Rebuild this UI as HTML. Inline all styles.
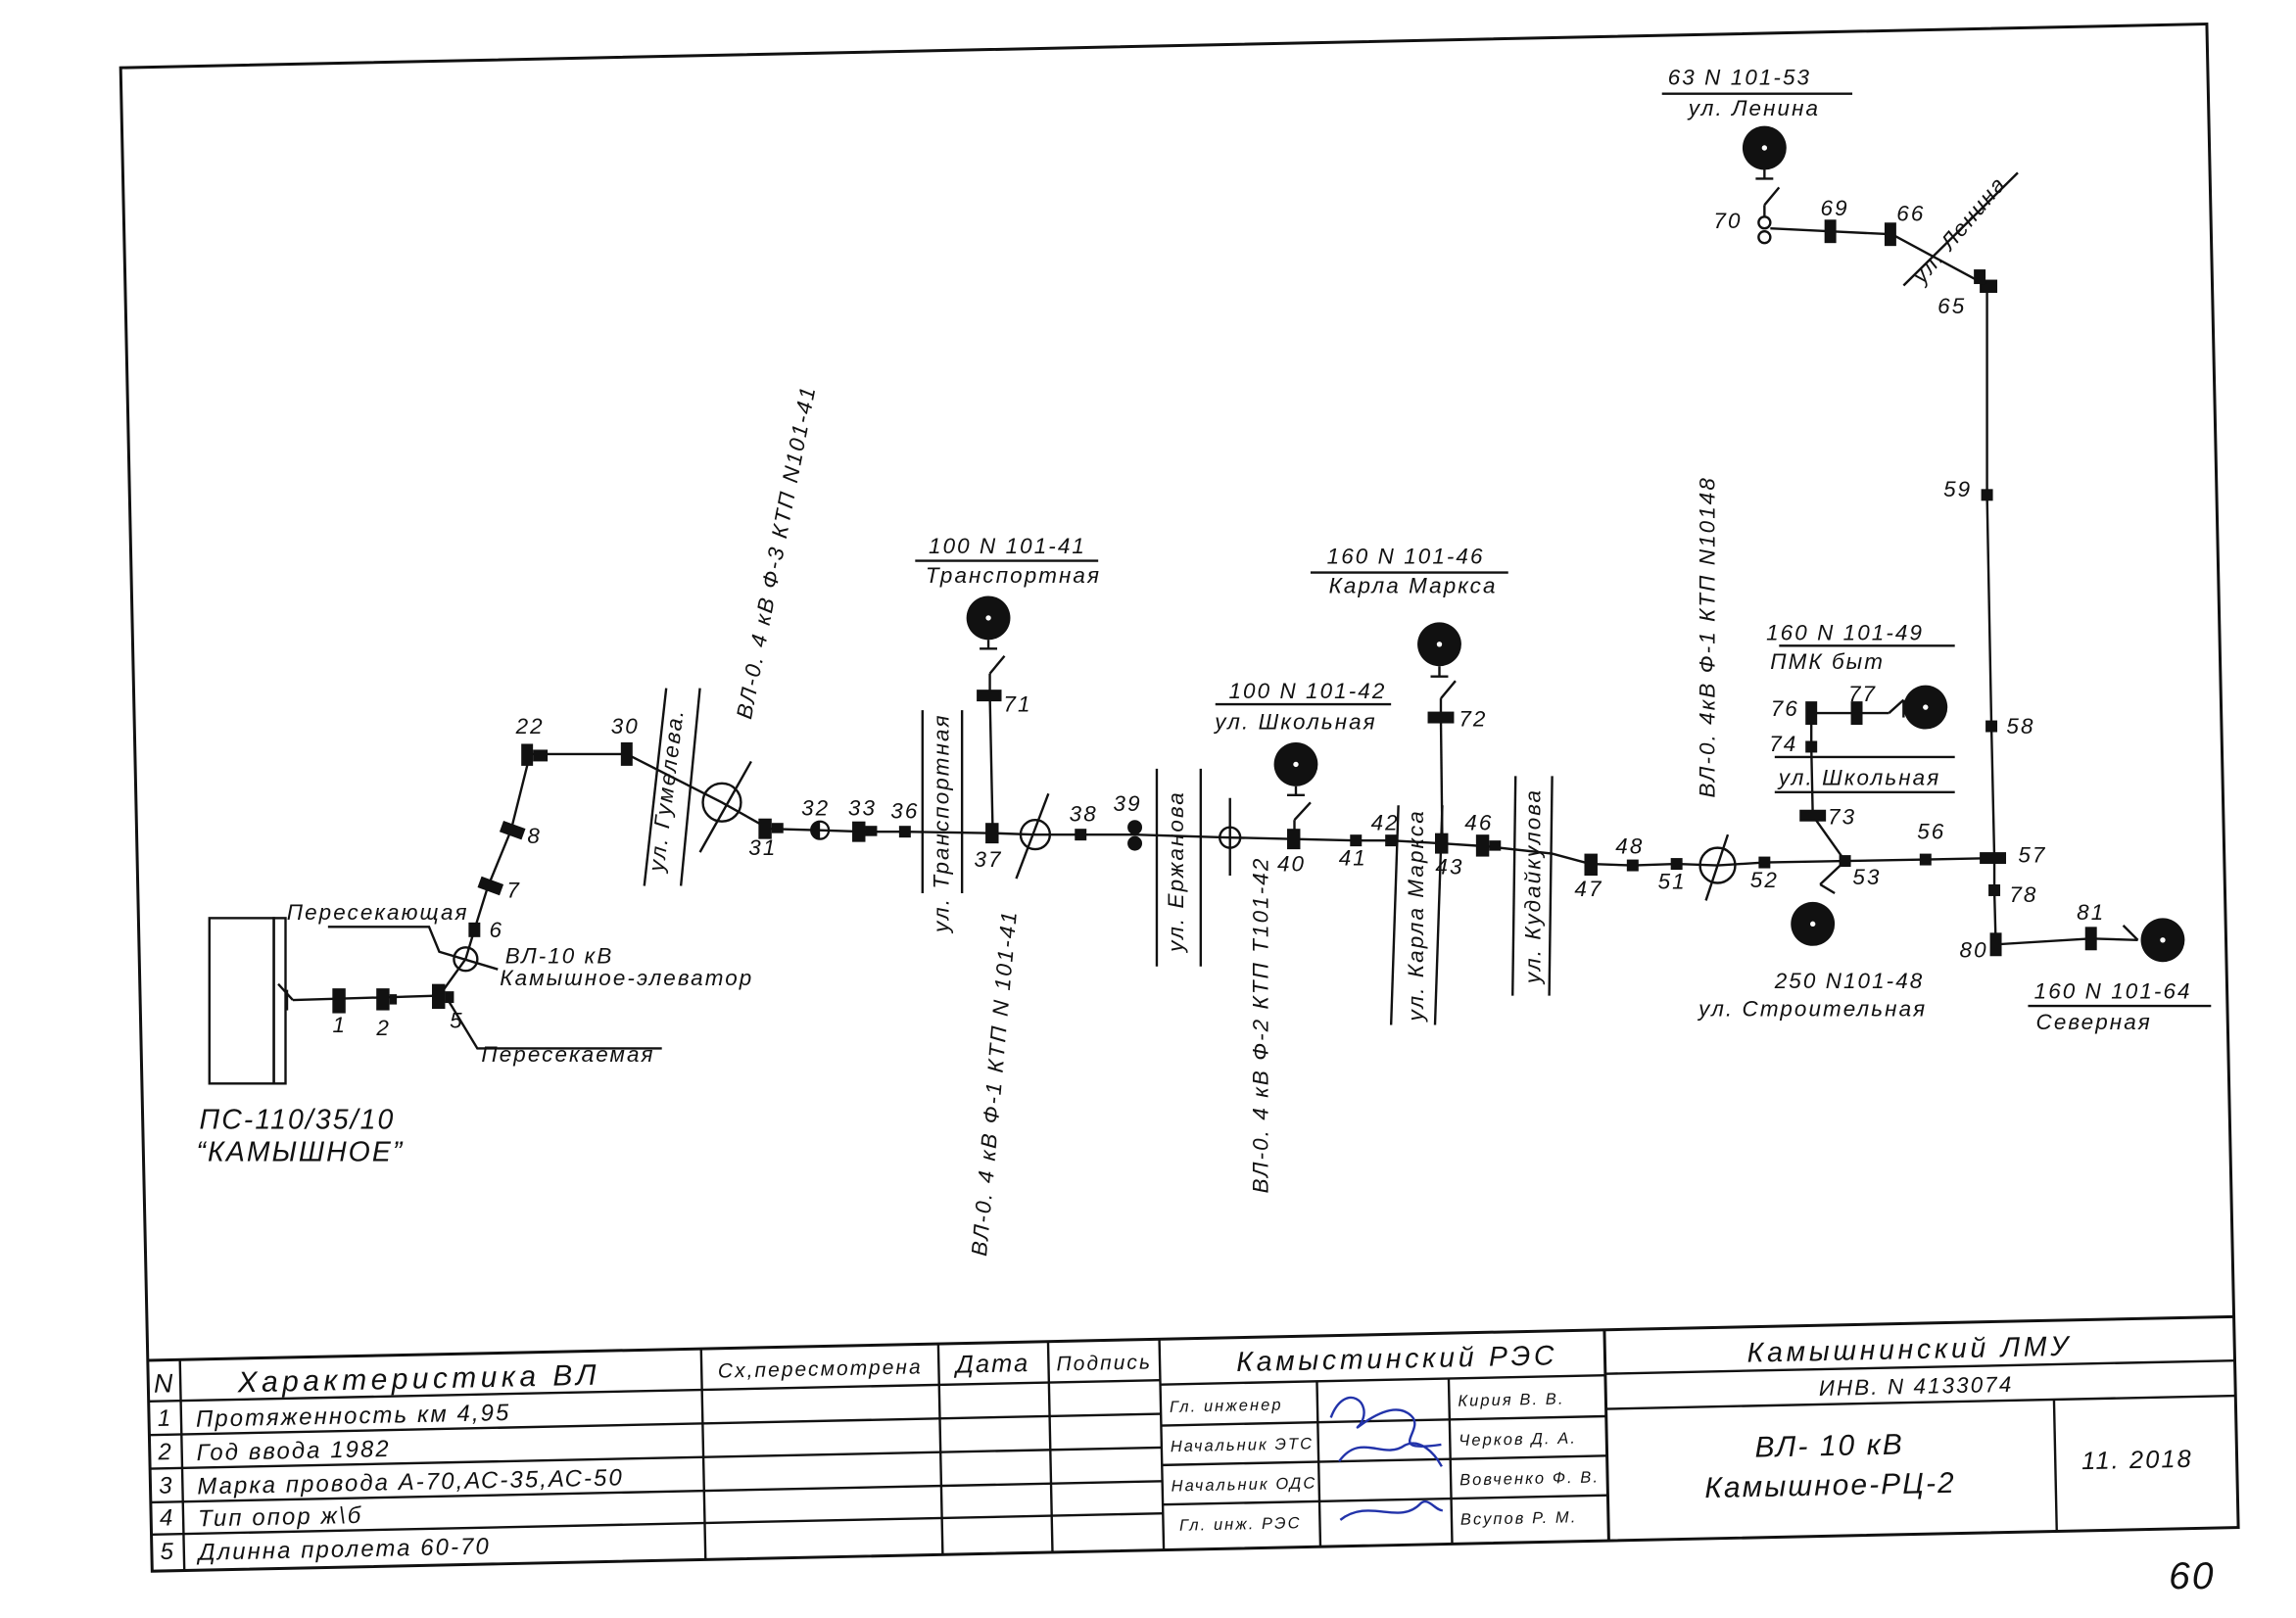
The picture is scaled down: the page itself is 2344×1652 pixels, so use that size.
<!DOCTYPE html>
<html><head><meta charset="utf-8"><style>
html,body{margin:0;padding:0;background:#fff;}
svg{display:block;}
text{font-family:"Liberation Sans",sans-serif;font-style:italic;fill:#111;letter-spacing:1.4px;}
</style></head><body>
<svg width="2344" height="1652" viewBox="0 0 1568 1105" preserveAspectRatio="none" xmlns="http://www.w3.org/2000/svg">
<rect width="1568" height="1105" fill="#fff"/>
<g stroke="#111" stroke-width="1.6" fill="none">
<g transform="rotate(-1.2 816 545)">
<rect x="93" y="31" width="1425" height="1027" stroke-width="2"/>
<line x1="93" y1="914" x2="1518" y2="914" stroke-width="2"/>
<line x1="93" y1="942" x2="784" y2="942"/>
<line x1="93" y1="965" x2="784" y2="965"/>
<line x1="93" y1="988" x2="784" y2="988"/>
<line x1="93" y1="1011" x2="784" y2="1011"/>
<line x1="93" y1="1033" x2="784" y2="1033"/>
<line x1="115" y1="914" x2="115" y2="1058"/>
<line x1="471" y1="914" x2="471" y2="1058"/>
<line x1="633" y1="914" x2="633" y2="1058"/>
<line x1="708" y1="914" x2="708" y2="1058"/>
<line x1="784" y1="914" x2="784" y2="1058"/>
<line x1="1088" y1="914" x2="1088" y2="1058" stroke-width="2"/>
<line x1="784" y1="945" x2="1088" y2="945"/>
<line x1="784" y1="973" x2="1088" y2="973"/>
<line x1="784" y1="1000" x2="1088" y2="1000"/>
<line x1="784" y1="1027" x2="1088" y2="1027"/>
<line x1="891" y1="945" x2="891" y2="1058"/>
<line x1="981" y1="945" x2="981" y2="1058"/>
<line x1="1088" y1="944" x2="1518" y2="944"/>
<line x1="1088" y1="968" x2="1518" y2="968"/>
<line x1="1394" y1="968" x2="1394" y2="1058"/>
</g>
<polyline points="200,683 300,680 318,655 324,635 333,606 349,567 362,515 428,515 493,548 525,566 560,567 590,568 618,568 678,569 707,570 738,570 775,570 840,572 884,573 926,574 950,574 985,576 1015,578 1060,583 1086,590 1115,591 1145,590 1173,591 1205,589 1260,588 1315,587 1362,586"/>
<polyline points="1357,195 1357,338 1360,496 1362,586 1362,608 1363,645 1428,641 1460,642"/>
<polyline points="1357,195 1292,160 1250,158 1209,156"/>
<line x1="1205" y1="140" x2="1205" y2="148"/><line x1="1205" y1="140" x2="1215" y2="128"/>
<line x1="1205" y1="115" x2="1205" y2="122"/><line x1="1199" y1="122" x2="1211" y2="122"/>
<line x1="1300" y1="195" x2="1378" y2="118"/>
<line x1="678" y1="569" x2="676" y2="475"/><line x1="676" y1="475" x2="676" y2="460"/><line x1="676" y1="460" x2="686" y2="448"/><line x1="675" y1="437" x2="675" y2="443"/><line x1="669" y1="443" x2="681" y2="443"/>
<line x1="985" y1="576" x2="984" y2="490"/><line x1="984" y1="490" x2="984" y2="477"/><line x1="984" y1="477" x2="994" y2="465"/><line x1="983" y1="455" x2="983" y2="462"/><line x1="977" y1="462" x2="989" y2="462"/>
<line x1="884" y1="573" x2="884" y2="560"/><line x1="884" y1="560" x2="895" y2="548"/><line x1="885" y1="537" x2="885" y2="543"/><line x1="879" y1="543" x2="891" y2="543"/>
<polyline points="1260,588 1238,557 1237,510 1237,487 1268,487 1290,487"/>
<line x1="1290" y1="487" x2="1300" y2="478"/><line x1="1300" y1="478" x2="1300" y2="490"/>
<line x1="1260" y1="588" x2="1243" y2="604"/><line x1="1243" y1="604" x2="1253" y2="610"/>
<line x1="1460" y1="642" x2="1450" y2="632"/>
<line x1="200" y1="683" x2="190" y2="672"/><line x1="196" y1="676" x2="196" y2="690"/>
<rect x="143" y="627" width="44" height="113"/><rect x="187" y="627" width="8" height="113"/>
<polyline points="224,633 293,633 300,650 340,662"/>
<polyline points="306,683 326,716 452,716"/>
<circle cx="318" cy="655" r="8"/>
<circle cx="493" cy="548" r="13"/><line x1="478" y1="582" x2="513" y2="520"/>
<circle cx="707" cy="570" r="10"/><line x1="694" y1="600" x2="716" y2="542"/>
<circle cx="840" cy="572" r="7"/><line x1="840" y1="545" x2="840" y2="598"/>
<circle cx="1173" cy="591" r="12"/><line x1="1165" y1="615" x2="1180" y2="570"/>
<circle cx="1205" cy="152" r="4"/><circle cx="1205" cy="162" r="4"/>
<line x1="440" y1="605" x2="455" y2="470"/><line x1="465" y1="605" x2="478" y2="470"/>
<line x1="630" y1="610" x2="630" y2="485"/><line x1="657" y1="610" x2="657" y2="485"/>
<line x1="790" y1="660" x2="790" y2="525"/><line x1="820" y1="660" x2="820" y2="525"/>
<line x1="950" y1="700" x2="955" y2="550"/><line x1="980" y1="700" x2="985" y2="550"/>
<line x1="1033" y1="680" x2="1035" y2="530"/><line x1="1058" y1="680" x2="1060" y2="530"/>
<line x1="1212" y1="517" x2="1335" y2="517"/><line x1="1212" y1="541" x2="1335" y2="541"/>
<line x1="1135" y1="64" x2="1265" y2="64"/><line x1="625" y1="383" x2="750" y2="383"/>
<line x1="895" y1="391" x2="1030" y2="391"/><line x1="830" y1="481" x2="950" y2="481"/>
<line x1="1215" y1="441" x2="1335" y2="441"/><line x1="1385" y1="687" x2="1510" y2="687"/>
</g>
<g fill="#111">
<rect x="227" y="675" width="9" height="17"/><rect x="257" y="675" width="9" height="15"/><rect x="266" y="679" width="5" height="7"/>
<rect x="295" y="672" width="9" height="17"/><rect x="304" y="677" width="6" height="8"/>
<rect x="320" y="630" width="8" height="10"/>
<rect x="327" y="601" width="16" height="8" transform="rotate(20 335 605)"/>
<rect x="342" y="563" width="16" height="8" transform="rotate(20 350 567)"/>
<rect x="356" y="508" width="8" height="15"/><rect x="364" y="512" width="10" height="8"/>
<rect x="424" y="507" width="8" height="16"/>
<rect x="518" y="559" width="9" height="14"/><rect x="527" y="562" width="8" height="7"/>
<path d="M560 561 a6 6 0 0 0 0 12z"/><circle cx="560" cy="567" r="6" fill="none" stroke="#111" stroke-width="1.5"/>
<rect x="582" y="561" width="9" height="14"/><rect x="591" y="564" width="8" height="7"/>
<rect x="614" y="564" width="8" height="8"/>
<rect x="673" y="562" width="9" height="14"/><rect x="667" y="471" width="17" height="8"/>
<rect x="734" y="566" width="8" height="8"/>
<circle cx="775" cy="565" r="5"/><circle cx="775" cy="576" r="5"/>
<rect x="879" y="566" width="9" height="14"/>
<rect x="922" y="570" width="8" height="8"/><rect x="946" y="570" width="8" height="8"/>
<rect x="980" y="569" width="9" height="14"/><rect x="975" y="486" width="18" height="8"/>
<rect x="1008" y="570" width="9" height="15"/><rect x="1017" y="574" width="8" height="7"/>
<rect x="1082" y="583" width="9" height="15"/>
<rect x="1111" y="587" width="8" height="8"/><rect x="1141" y="586" width="8" height="8"/>
<rect x="1201" y="585" width="8" height="8"/><rect x="1256" y="584" width="8" height="8"/><rect x="1311" y="583" width="8" height="8"/>
<rect x="1352" y="582" width="18" height="8"/>
<rect x="1352" y="191" width="12" height="9"/><rect x="1348" y="184" width="8" height="10"/>
<rect x="1353" y="334" width="8" height="8"/><rect x="1356" y="492" width="8" height="8"/><rect x="1358" y="604" width="8" height="8"/>
<rect x="1359" y="637" width="8" height="16"/><rect x="1424" y="633" width="8" height="16"/>
<rect x="1287" y="152" width="8" height="16"/><rect x="1246" y="150" width="8" height="16"/>
<rect x="1229" y="553" width="18" height="8"/><rect x="1233" y="506" width="8" height="8"/>
<rect x="1233" y="479" width="8" height="16"/><rect x="1264" y="479" width="8" height="16"/>
<circle cx="1205" cy="101" r="15"/><circle cx="675" cy="422" r="15"/><circle cx="983" cy="440" r="15"/>
<circle cx="885" cy="522" r="15"/><circle cx="1315" cy="483" r="15"/><circle cx="1238" cy="631" r="15"/><circle cx="1477" cy="642" r="15"/>
</g>
<g fill="#fff"><circle cx="1205" cy="101" r="1.8"/><circle cx="675" cy="422" r="1.8"/><circle cx="983" cy="440" r="1.8"/><circle cx="885" cy="522" r="1.8"/><circle cx="1315" cy="483" r="1.8"/><circle cx="1238" cy="631" r="1.8"/><circle cx="1477" cy="642" r="1.8"/></g>
<g font-size="15" text-anchor="middle">
<text x="1188" y="58">63  N  101-53</text><text x="1198" y="79">ул. Ленина</text>
<text x="1180" y="156">70</text><text x="1253" y="147">69</text><text x="1305" y="151">66</text>
<text transform="translate(1342 160) rotate(-50)">ул. Ленина</text>
<text x="1333" y="214">65</text><text x="1337" y="339">59</text><text x="1380" y="501">58</text>
<text x="1388" y="589">57</text><text x="1382" y="616">78</text><text x="1348" y="654">80</text><text x="1428" y="628">81</text>
<text x="1443" y="682">160  N  101-64</text><text x="1430" y="703">Северная</text>
<text x="1260" y="437">160  N  101-49</text><text x="1248" y="457">ПМК  быт</text>
<text x="1219" y="489">76</text><text x="1272" y="479">77</text><text x="1218" y="513">74</text>
<text x="1270" y="536">ул. Школьная</text><text x="1258" y="563">73</text><text x="1275" y="604">53</text>
<text x="1319" y="573">56</text><text x="1205" y="606">52</text><text x="1142" y="607">51</text><text x="1113" y="583">48</text><text x="1085" y="612">47</text>
<text x="1263" y="675">250  N101-48</text><text x="1238" y="694">ул. Строительная</text>
<text transform="translate(1171 435) rotate(-90)">ВЛ-0. 4кВ  Ф-1  КТП  N10148</text>
<text transform="translate(1052 605) rotate(-90)">ул. Кудайкулова</text>
<text x="1010" y="567">46</text><text x="990" y="597">43</text><text x="946" y="567">42</text><text x="924" y="591">41</text><text x="882" y="595">40</text>
<text transform="translate(972 625) rotate(-90)">ул. Карла Маркса</text>
<text x="960" y="385">160  N  101-46</text><text x="965" y="405">Карла  Маркса</text><text x="1006" y="496">72</text>
<text x="893" y="477">100  N  101-42</text><text x="885" y="498">ул. Школьная</text>
<text transform="translate(866 700) rotate(-90)">ВЛ-0. 4  кВ  Ф-2  КТП  Т101-42</text>
<text transform="translate(808 595) rotate(-90)">ул. Ержанова</text>
<text x="770" y="554">39</text><text x="740" y="561">38</text>
<text transform="translate(684 740) rotate(-85)">ВЛ-0. 4  кВ  Ф-1  КТП  N  101-41</text>
<text transform="translate(648 562) rotate(-90)">ул. Транспортная</text>
<text x="675" y="592">37</text><text x="695" y="486">71</text>
<text x="688" y="378">100  N  101-41</text><text x="692" y="398">Транспортная</text>
<text x="618" y="559">36</text><text x="589" y="557">33</text><text x="557" y="557">32</text><text x="521" y="584">31</text>
<text transform="translate(535 378) rotate(-79)">ВЛ-0. 4  кВ  Ф-3  КТП  N101-41</text>
<text transform="translate(460 540) rotate(-83)">ул. Гумелева.</text>
<text x="362" y="501">22</text><text x="427" y="501">30</text><text x="365" y="576">8</text><text x="351" y="613">7</text><text x="339" y="640">6</text>
<text x="258" y="628">Пересекающая</text><text x="382" y="658">ВЛ-10 кВ</text><text x="428" y="673">Камышное-элеватор</text><text x="388" y="725">Пересекаемая</text>
<text x="232" y="705">1</text><text x="262" y="707">2</text><text x="312" y="702">5</text>
<text x="203" y="771" font-size="19">ПС-110/35/10</text><text x="205" y="793" font-size="19">“КАМЫШНОЕ”</text>
<text x="1497" y="1085" font-size="26" fill="#555">60</text>
</g>
<g transform="rotate(-1.2 816 545)" font-size="16">
<text x="104" y="936" text-anchor="middle" font-size="18">N</text>
<text x="278" y="937" text-anchor="middle" font-size="20" style="letter-spacing:3px">Характеристика  ВЛ</text>
<text x="552" y="934" text-anchor="middle" font-size="14">Сх,пересмотрена</text>
<text x="670" y="934" text-anchor="middle" font-size="17">Дата</text>
<text x="746" y="934" text-anchor="middle" font-size="14">Подпись</text>
<text x="946" y="937" text-anchor="middle" font-size="19" style="letter-spacing:2.5px">Камыстинский  РЭС</text>
<text x="104" y="959" text-anchor="middle">1</text><text x="125" y="960">Протяженность км 4,95</text>
<text x="104" y="982" text-anchor="middle">2</text><text x="125" y="983">Год ввода 1982</text>
<text x="104" y="1005" text-anchor="middle">3</text><text x="125" y="1006">Марка провода А-70,АС-35,АС-50</text>
<text x="104" y="1027" text-anchor="middle">4</text><text x="125" y="1028">Тип опор ж\б</text>
<text x="104" y="1050" text-anchor="middle">5</text><text x="125" y="1051">Длинна пролета 60-70</text>
<g font-size="11" style="letter-spacing:0.5px"><text x="790" y="964">Гл.  инженер</text><text x="790" y="991">Начальник  ЭТС</text><text x="790" y="1018">Начальник  ОДС</text><text x="795" y="1045">Гл.  инж.  РЭС</text>
<text x="987" y="964">Кирия  В. В.</text><text x="987" y="991">Черков  Д. А.</text><text x="987" y="1018">Вовченко  Ф. В.</text><text x="987" y="1045">Всупов  Р. М.</text></g>
<g fill="none" stroke="#2233aa" stroke-width="1.6"><path d="M900 970 c10-25 30-10 20 5 c-10 10 20-20 35-5 c10 10 -20 25 20 20"/><path d="M905 1000 c15-20 30 0 45-10 c10-5 20 5 25 15"/><path d="M905 1040 c20-15 40 5 55-10 c5-5 10 5 15 5"/></g>
<text x="1296" y="938" text-anchor="middle" font-size="19" style="letter-spacing:2.5px">Камышнинский  ЛМУ</text>
<text x="1300" y="962" text-anchor="middle" font-size="15">ИНВ. N  4133074</text>
<text x="1240" y="1003" text-anchor="middle" font-size="20">ВЛ-  10  кВ</text>
<text x="1240" y="1030" text-anchor="middle" font-size="20">Камышное-РЦ-2</text>
<text x="1450" y="1016" text-anchor="middle" font-size="17">11. 2018</text>
</g>
</svg>
</body></html>
